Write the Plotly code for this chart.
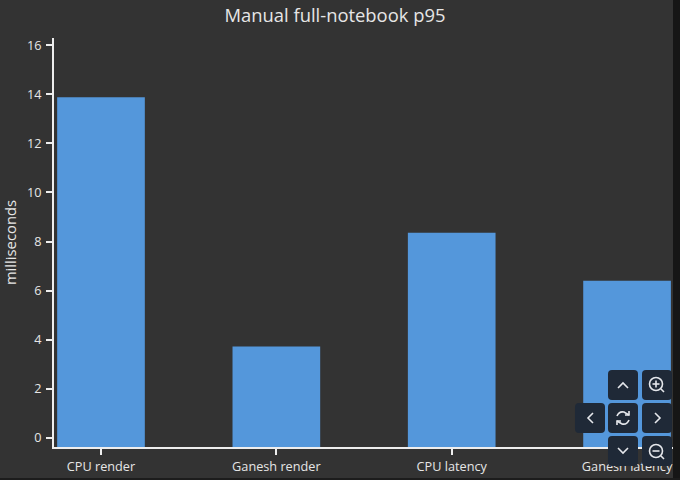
import plotly.graph_objects as go

categories = ["CPU render", "Ganesh render", "CPU latency", "Ganesh latency"]
values = [13.88, 3.72, 8.36, 6.4]
y_ticks = [0, 2, 4, 6, 8, 10, 12, 14, 16]
title_text = "Manual full-notebook p95"
y_title = "milliseconds"

W, H = 680, 480
BG = "#333333"
TXT = "#e6e6e6"
AX = "#eeeeee"
BAR = "#5497db"
BTN = "#1f2937"
FONT = "Open Sans"
L, R, T, B = 54, 673, 38, 447
Y0, Y1 = -0.37, 16.29

def px(x): return (x - L) / (R - L)
def py(y): return (B - y) / (B - T)

fig = go.Figure(go.Bar(
    x=categories,
    y=[v - Y0 for v in values],
    base=Y0,
    width=0.5,
    marker=dict(color=BAR, line=dict(width=0)),
))

shapes = []
def path(d, color="#e5e7eb", w=1.6):
    shapes.append(dict(type="path", xref="paper", yref="paper", path=d,
                       line=dict(color=color, width=w), layer="above"))
def poly(pts):
    return "M " + " L ".join(f"{px(a):.5f},{py(b):.5f}" for a, b in pts)
def circle(cx, cy, r, color="#e5e7eb", w=1.6):
    shapes.append(dict(type="circle", xref="paper", yref="paper",
                       x0=px(cx - r), x1=px(cx + r), y0=py(cy + r), y1=py(cy - r),
                       line=dict(color=color, width=w), layer="above"))
def button(cx, cy):
    s, r = 15, 4
    x0, x1, y0, y1 = cx - s, cx + s, cy - s, cy + s
    pts = (f"M {px(x0+r):.5f},{py(y0):.5f} L {px(x1-r):.5f},{py(y0):.5f} "
           f"Q {px(x1):.5f},{py(y0):.5f} {px(x1):.5f},{py(y0+r):.5f} "
           f"L {px(x1):.5f},{py(y1-r):.5f} Q {px(x1):.5f},{py(y1):.5f} {px(x1-r):.5f},{py(y1):.5f} "
           f"L {px(x0+r):.5f},{py(y1):.5f} Q {px(x0):.5f},{py(y1):.5f} {px(x0):.5f},{py(y1-r):.5f} "
           f"L {px(x0):.5f},{py(y0+r):.5f} Q {px(x0):.5f},{py(y0):.5f} {px(x0+r):.5f},{py(y0):.5f} Z")
    shapes.append(dict(type="path", xref="paper", yref="paper", path=pts,
                       fillcolor=BTN, line=dict(width=0), layer="above"))

# dark strips at the right and bottom edges of the screenshot
shapes.append(dict(type="rect", xref="paper", yref="paper", x0=px(673), x1=px(681), y0=py(481), y1=py(-1),
                   fillcolor="#161616", line=dict(width=0), layer="above"))
shapes.append(dict(type="rect", xref="paper", yref="paper", x0=px(-1), x1=px(681), y0=py(481), y1=py(478),
                   fillcolor="#1c1c1c", line=dict(width=0), layer="above"))

for c in [(623, 385), (657, 385), (590, 418), (623, 418), (657, 418), (623, 451), (657, 451)]:
    button(*c)

path(poly([(618, 388), (623, 383), (628, 388)]))
path(poly([(618, 448), (623, 453), (628, 448)]))
path(poly([(593, 413), (588, 418), (593, 423)]))
path(poly([(655, 413), (660, 418), (655, 423)]))
circle(656, 384, 6.5)
path(poly([(652.5, 384), (659.5, 384)]))
path(poly([(656, 380.5), (656, 387.5)]))
path(poly([(661, 389), (664, 392)]))
circle(656, 451, 6.5)
path(poly([(652.5, 451), (659.5, 451)]))
path(poly([(661, 456), (664, 459)]))
path(f"M {px(617):.5f},{py(416):.5f} Q {px(619):.5f},{py(411):.5f} {px(624):.5f},{py(412):.5f} L {px(629):.5f},{py(415):.5f}")
path(f"M {px(629):.5f},{py(420):.5f} Q {px(627):.5f},{py(425):.5f} {px(622):.5f},{py(424):.5f} L {px(617):.5f},{py(421):.5f}")
path(poly([(629, 411), (629, 415), (625, 415)]))
path(poly([(617, 425), (617, 421), (621, 421)]))

fig.update_layout(
    width=W, height=H, autosize=False,
    paper_bgcolor=BG, plot_bgcolor=BG,
    margin=dict(l=L, r=W - R, t=T, b=H - B, pad=0, autoexpand=False),
    font=dict(family=FONT, color=TXT, size=12),
    title=dict(text=title_text, x=335 / W, xanchor="center", xref="container",
               y=1 - 16 / H, yanchor="middle", font=dict(size=18.4, color=TXT)),
    showlegend=False,
    shapes=shapes,
    xaxis=dict(range=[-0.268, 3.262], showgrid=False, zeroline=False, showline=True,
               linecolor=AX, linewidth=2, ticks="outside", ticklen=6, tickcolor=AX,
               tickwidth=2, tickfont=dict(size=12.7, color=TXT), fixedrange=True,
               ticklabelstandoff=1, automargin=False),
    yaxis=dict(range=[Y0, Y1], tickvals=y_ticks, showgrid=False, zeroline=False, showline=True,
               linecolor=AX, linewidth=2, ticks="outside", ticklen=6, tickcolor=AX,
               tickwidth=2, tickfont=dict(size=12.7, color=TXT), fixedrange=True,
               ticklabelstandoff=2, automargin=False,
               title=dict(text=y_title, standoff=9, font=dict(size=14.8, color=TXT))),
)

fig.write_html("out.html", config=dict(displayModeBar=False),
               post_script="document.body.style.margin='0';document.body.style.background='#333333';")
